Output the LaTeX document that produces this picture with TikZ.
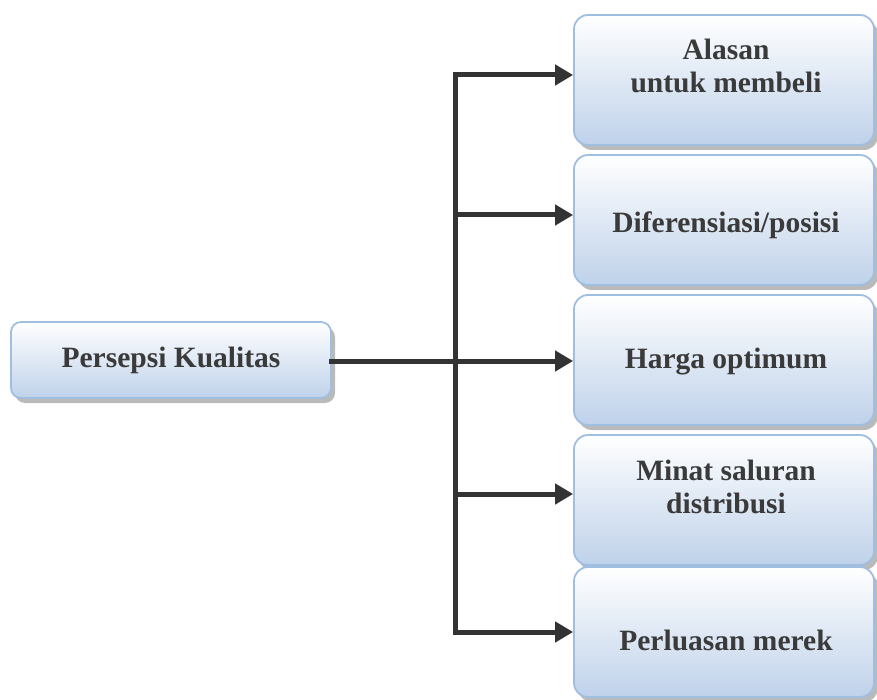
\documentclass[tikz,border=0pt]{standalone}
\usepackage{fontspec}
\setmainfont{Liberation Serif}
\usetikzlibrary{arrows.meta,shadows}
\definecolor{boxline}{HTML}{A0BEE0}
\definecolor{boxbot}{HTML}{BFD2EA}
\definecolor{txt}{HTML}{3A3A3A}
\definecolor{conn}{HTML}{333333}
\tikzset{
  box/.style={draw=boxline, line width=1.8pt, rounded corners=14pt,
    top color=white, bottom color=boxbot, text=txt,
    inner sep=0pt,
    drop shadow={shadow xshift=4pt, shadow yshift=-5pt, fill=black!45, opacity=0.6}},
  rbox/.style={box, minimum width=300pt, minimum height=130pt},
  lbox/.style={box, rounded corners=10pt, minimum width=320pt, minimum height=76pt},
  lbl/.style={text=txt, font=\bfseries\fontsize{29.5}{33}\selectfont, align=center},
  conline/.style={draw=conn, line width=5pt},
  conarrow/.style={conline, -{Triangle[length=18pt,width=20pt]}}
}
\begin{document}
\begin{tikzpicture}[x=1pt,y=-1pt]
\useasboundingbox (0,0) rectangle (877,700);
\node[lbox] (pk) at (171,360) {};
\node[rbox] (b1) at (724,80) {};
\node[rbox] (b2) at (724,220) {};
\node[rbox] (b3) at (724,360) {};
\node[rbox] (b4) at (724,500) {};
\node[rbox] (b5) at (724,632) {};
\node[lbl] (t0) at (171,360) {Persepsi Kualitas};
\node[lbl] (t1) at (726,66) {Alasan\\untuk membeli};
\node[lbl] (t2) at (726,225) {Diferensiasi/posisi};
\node[lbl] (t3) at (726,362) {Harga optimum};
\node[lbl] (t4) at (726,487) {Minat saluran\\distribusi};
\node[lbl] (t5) at (726,640) {Perluasan merek};
\coordinate (top) at (455,75);
\coordinate (s2) at (455,215);
\coordinate (s3) at (455,361);
\coordinate (s4) at (455,494);
\coordinate (bot) at (455,632);
\draw[conline, line cap=rect] (pk.east |- s3) -- (s3);
\draw[conline] ([yshift=-2.5pt]top) -- ([yshift=2.5pt]bot);
\draw[conarrow] ([xshift=-2.5pt]top) -- (b1.west |- top);
\draw[conarrow] (s2) -- (b2.west |- s2);
\draw[conarrow] (s3) -- (b3.west |- s3);
\draw[conarrow] (s4) -- (b4.west |- s4);
\draw[conarrow] ([xshift=-2.5pt]bot) -- (b5.west |- bot);
\end{tikzpicture}
\end{document}
